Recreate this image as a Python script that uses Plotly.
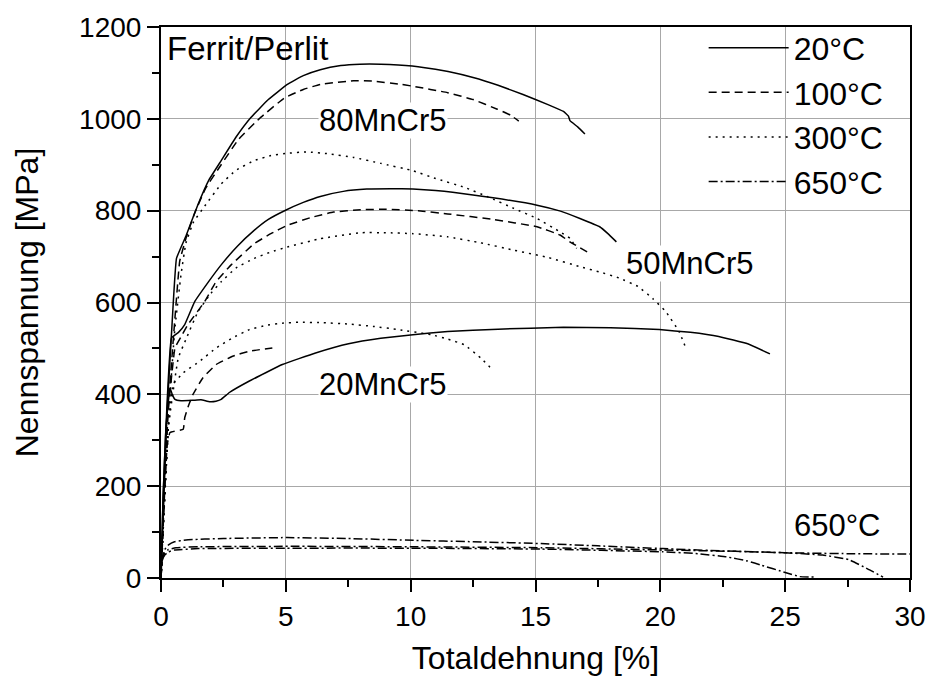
import plotly.graph_objects as go

# ---------------- data ----------------
# 80MnCr5
m80_20_x = [0, 0.1, 0.25, 0.45, 0.62, 1.0, 1.47, 1.9, 2.41, 3.0, 3.6, 4.3, 5.06, 5.7, 6.38, 7.2, 7.97, 8.8, 9.5, 10.5, 11.5, 12.5, 13.5, 14.5, 15.5, 16.12, 16.32, 16.38, 16.7, 16.98]
m80_20_y = [0, 150, 370, 560, 696, 745, 812, 865, 909, 960, 1003, 1042, 1075, 1094, 1107, 1116, 1119, 1119, 1117, 1112, 1103, 1090, 1073, 1053, 1031, 1016, 1006, 996, 982, 967]
m80_100_x = [0, 0.1, 0.3, 0.55, 0.75, 1.0, 1.35, 1.8, 2.41, 3.1, 3.93, 4.93, 5.7, 6.38, 7.71, 8.5, 9.5, 10.09, 11.48, 12.5, 13.47, 14.0, 14.33]
m80_100_y = [0, 130, 380, 560, 690, 740, 795, 850, 900, 955, 1000, 1045, 1064, 1075, 1083, 1082, 1076, 1071, 1057, 1042, 1021, 1008, 995]
m80_300_x = [0, 0.1, 0.3, 0.55, 0.8, 1.0, 1.3, 1.75, 2.41, 3.0, 3.73, 4.4, 5.06, 5.85, 6.7, 7.71, 8.8, 10.09, 11.0, 12.15, 13.1, 14.13, 15.06, 15.98, 16.38, 16.65]
m80_300_y = [0, 120, 350, 540, 660, 730, 775, 810, 858, 888, 909, 920, 925, 928, 924, 916, 903, 887, 870, 851, 830, 805, 783, 754, 740, 718]

# 50MnCr5
m50_20_x = [0, 0.08, 0.2, 0.42, 0.7, 0.95, 1.35, 1.9, 2.41, 3.05, 3.73, 4.3, 4.99, 5.7, 6.38, 7.3, 8.24, 9.2, 10.09, 11.0, 11.68, 13.3, 15.06, 16.0, 16.78, 17.57, 17.9, 18.24]
m50_20_y = [0, 170, 330, 523, 535, 552, 602, 645, 682, 722, 757, 781, 801, 818, 831, 842, 847, 848, 847, 844, 840, 828, 812, 799, 783, 765, 750, 732]
m50_100_x = [0, 0.1, 0.25, 0.56, 0.8, 1.08, 1.75, 2.2, 2.81, 3.73, 4.4, 5.06, 6.0, 6.91, 8.0, 9.03, 10.3, 11.48, 13.3, 15.06, 15.98, 16.38, 17.17]
m50_100_y = [0, 150, 340, 501, 525, 552, 602, 645, 682, 728, 750, 768, 785, 797, 802, 803, 800, 793, 781, 765, 747, 732, 707]
m50_300_x = [0, 0.1, 0.3, 0.69, 1.0, 1.48, 2.0, 2.41, 3.0, 3.73, 4.4, 5.06, 6.38, 7.97, 9.0, 10.09, 11.48, 12.8, 14.13, 15.5, 16.78, 17.6, 18.37, 19.1, 19.69, 20.22, 20.75, 21.02]
m50_300_y = [0, 120, 330, 479, 520, 580, 620, 645, 675, 696, 710, 721, 739, 752, 752, 750, 743, 730, 714, 698, 678, 666, 653, 635, 609, 580, 537, 501]

# 20MnCr5
m20_20_x = [0, 0.08, 0.2, 0.36, 0.45, 0.56, 0.8, 1.28, 1.6, 1.95, 2.2, 2.41, 2.74, 3.54, 4.86, 6.19, 7.51, 8.8, 10.09, 11.48, 13.5, 16.12, 18.0, 19.96, 21.2, 22.34, 23.5, 24.39]
m20_20_y = [0, 170, 330, 414, 400, 389, 386, 387, 388, 384, 385, 389, 404, 429, 465, 490, 510, 522, 530, 537, 542, 546, 545, 541, 535, 526, 510, 488]
m20_100_x = [0, 0.1, 0.25, 0.36, 0.89, 0.95, 1.1, 1.28, 1.68, 2.21, 2.87, 3.54, 4.46]
m20_100_y = [0, 150, 290, 317, 324, 349, 375, 400, 436, 465, 483, 494, 501]
m20_300_x = [0, 0.1, 0.3, 0.49, 0.89, 1.55, 2.21, 2.87, 3.54, 4.2, 4.86, 5.52, 6.5, 7.51, 8.5, 9.5, 10.82, 11.5, 12.15, 12.81, 13.27]
m20_300_y = [0, 120, 330, 422, 447, 472, 501, 523, 541, 550, 555, 557, 556, 553, 548, 541, 530, 520, 508, 479, 454]

# 650 °C curves
t650a_x = [0, 0.05, 0.15, 0.3, 0.54, 1.0, 2.5, 5.05, 7.5, 10.13, 12.5, 15.22, 17.5, 20.1, 22.5, 24.99, 27.5, 30]
t650a_y = [0, 45, 62, 72, 79, 83, 86, 88, 86, 82, 79, 75, 70, 64, 59, 55, 53, 52]
t650b_x = [0, 0.05, 0.15, 0.3, 0.6, 1.5, 5.44, 10, 15.22, 20.1, 23, 25, 26.5, 27.55, 28.3, 28.92]
t650b_y = [0, 40, 55, 62, 66, 68, 69, 68, 66, 61, 58, 55, 50, 40, 20, 2]
t650c_x = [0, 0.05, 0.15, 0.3, 0.54, 1.5, 5.0, 10, 15.22, 20.1, 21.5, 22.65, 23.5, 24.04, 25.0, 25.59, 26.2]
t650c_y = [0, 38, 50, 57, 61, 64, 65, 65, 63, 57, 53, 46, 37, 28, 12, 3, 2]

temps = ["20°C", "100°C", "300°C", "650°C"]
series = {
    "20°C": [(m80_20_x, m80_20_y), (m50_20_x, m50_20_y), (m20_20_x, m20_20_y)],
    "100°C": [(m80_100_x, m80_100_y), (m50_100_x, m50_100_y), (m20_100_x, m20_100_y)],
    "300°C": [(m80_300_x, m80_300_y), (m50_300_x, m50_300_y), (m20_300_x, m20_300_y)],
    "650°C": [(t650a_x, t650a_y), (t650b_x, t650b_y), (t650c_x, t650c_y)],
}
dashes = {"20°C": "solid", "100°C": "8px,5px", "300°C": "2px,5px", "650°C": "9px,3px,2px,3px"}

labels = ["Ferrit/Perlit", "80MnCr5", "50MnCr5", "20MnCr5", "650°C"]
label_x = [0.2, 8.9, 21.2, 8.9, 27.1]
label_y = [1154, 996, 684, 422, 115]
label_size = [33, 31, 31, 31, 31]

FONT = "Liberation Sans, Arial, sans-serif"

fig = go.Figure()
for t in temps:
    for i, (xs, ys) in enumerate(series[t]):
        fig.add_trace(go.Scatter(
            x=xs, y=ys, mode="lines", name=t, legendgroup=t,
            showlegend=(i == 0),
            line=dict(color="black", width=1.5, dash=dashes[t], shape="spline", smoothing=0.3),
        ))

for k, (txt, lx, ly, ls) in enumerate(zip(labels, label_x, label_y, label_size)):
    fig.add_annotation(
        x=lx, y=ly, text=txt, showarrow=False,
        xanchor="left" if k == 0 else "center", yanchor="middle",
        font=dict(family=FONT, size=ls, color="black"),
        bgcolor="white" if k > 0 else "rgba(0,0,0,0)", borderpad=0,
    )

axis_common = dict(
    showline=True, linecolor="black", linewidth=2, mirror=True,
    showgrid=True, gridcolor="#a8a8a8", gridwidth=1,
    ticks="outside", ticklen=12, tickwidth=1.5, tickcolor="black",
    tickfont=dict(family=FONT, size=28, color="black"),
    zeroline=False,
)

fig.update_xaxes(
    range=[0, 30], tick0=0, dtick=5,
    minor=dict(ticks="outside", ticklen=7, dtick=2.5, tickcolor="black", showgrid=False),
    title=dict(text="Totaldehnung [%]", font=dict(family=FONT, size=32, color="black"), standoff=16),
    **axis_common,
)
fig.update_yaxes(
    range=[0, 1200], tick0=0, dtick=200,
    minor=dict(ticks="outside", ticklen=7, dtick=100, tickcolor="black", showgrid=False),
    title=dict(text="Nennspannung [MPa]", font=dict(family=FONT, size=32, color="black"), standoff=31),
    **axis_common,
)

fig.update_layout(
    width=938, height=684,
    margin=dict(l=161, r=22, t=24, b=106),
    plot_bgcolor="white", paper_bgcolor="white",
    legend=dict(
        x=0.7245, y=1.012, xanchor="left", yanchor="top",
        font=dict(family=FONT, size=32, color="black"),
        bgcolor="rgba(0,0,0,0)", borderwidth=0, itemwidth=80,
        tracegroupgap=0, traceorder="normal",
    ),
    showlegend=True,
)

fig.write_html("out.html")
